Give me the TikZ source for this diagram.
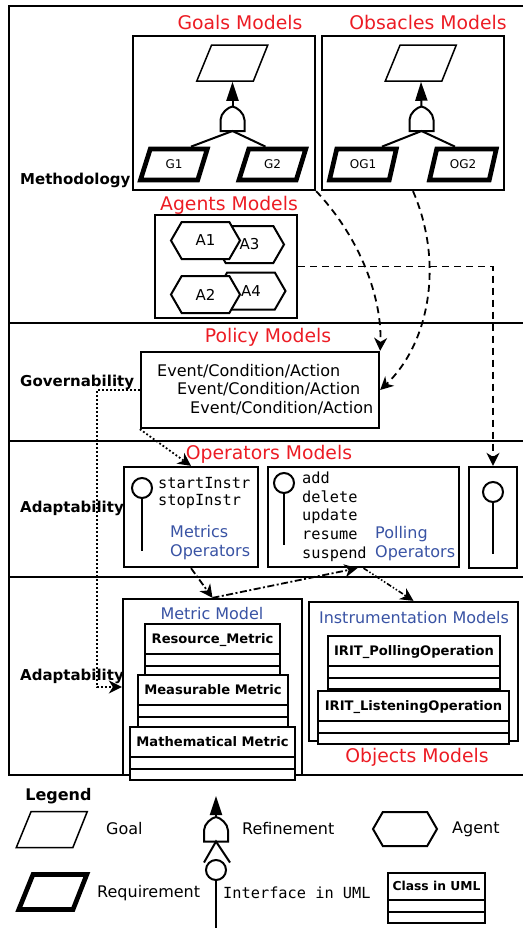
\documentclass[tikz,border=0pt]{standalone}
\usepackage{fontspec}
\setmainfont{DejaVu Sans}
\setmonofont{DejaVu Sans Mono}
\usetikzlibrary{arrows.meta,shapes.geometric,shapes.symbols,shapes.multipart,positioning}
\definecolor{modelred}{RGB}{236,28,36}
\definecolor{opblue}{RGB}{57,83,164}
\newcommand{\umlstrut}{\rule[-7.25pt]{0pt}{24pt}}

\tikzset{
  frame/.style={line width=2.3pt},
  box/.style={draw,line width=2.3pt,inner sep=0pt},
  title/.style={text=modelred,font=\fontsize{18.8}{22}\selectfont,inner sep=0pt},
  seclabel/.style={font=\bfseries\fontsize{15}{18}\selectfont,inner sep=0pt,anchor=west},
  goal/.style={draw,line width=1.5pt,trapezium,trapezium left angle=70.5,trapezium right angle=109,
    trapezium stretches=true,minimum width=71pt,minimum height=36pt,inner sep=1pt,
    font=\fontsize{12}{14}\selectfont},
  req/.style={goal,line width=4.7pt,minimum width=67pt,minimum height=31pt},
  agent/.style={draw,line width=2pt,fill=white,signal,signal to=east and west,signal pointer angle=120,
    minimum width=69pt,minimum height=37pt,inner sep=1pt,font=\fontsize{15}{18}\selectfont},
  lolli/.style={draw,line width=2pt,circle,minimum size=20pt,inner sep=0pt},
  stem/.style={line width=2pt},
  mono/.style={font=\ttfamily\fontsize{15.3}{18}\selectfont,inner sep=0pt,anchor=west},
  optext/.style={text=opblue,font=\fontsize{16}{19}\selectfont,inner sep=0pt,anchor=west},
  evtext/.style={font=\fontsize{16}{19}\selectfont,inner sep=0pt,anchor=west},
  uml/.style={draw,line width=2pt,fill=white,rectangle split,rectangle split parts=3,
    rectangle split empty part height=5.5pt,rectangle split empty part depth=0pt,
    inner xsep=6.5pt,inner ysep=2pt,anchor=north,font=\bfseries\fontsize{13.1}{15}\selectfont},
  refine/.style={line width=2pt,-{Triangle[length=19pt,width=12pt]}},
  dasharrow/.style={line width=1.8pt,dash pattern=on 7pt off 5pt,->},
  dotline/.style={line width=1.8pt,dash pattern=on 1.8pt off 2.2pt,->},
  dashdot/.style={line width=1.8pt,dash pattern=on 7pt off 2.5pt on 2pt off 2.5pt,->},
  dashdotdot/.style={line width=1.6pt,dash pattern=on 5pt off 2pt on 1.5pt off 2pt on 1.5pt off 2pt,->},
  refgate/.pic={
    \draw[line width=2pt,fill=white] (-12,12) -- (-12,1) .. controls (-12,-6) and (-4,-12) .. (0,-12.5)
      .. controls (4,-12) and (12,-6) .. (12,1) -- (12,12) -- cycle;
    \coordinate (-top) at (0,-12.5);
    \coordinate (-bot) at (0,12);
  }
}

\begin{document}
\begin{tikzpicture}[x=1pt,y=-1pt,>={Stealth[length=13pt,width=13pt,inset=4pt]}]
\useasboundingbox (0,0) rectangle (523,929);

% layers of the frame
\draw[frame] (523,6) -- (9,6) -- (9,775) -- (523,775);
\draw[frame] (9,323) -- (523,323) (9,441) -- (523,441) (9,577) -- (523,577);
\node[seclabel] (meth) at (20,180) {Methodology};
\node[seclabel] (gov) at (20,382) {Governability};
\node[seclabel] (adapt1) at (20,508) {Adaptability};
\node[seclabel] (adapt2) at (20,676) {Adaptability};

% goals and obstacles
\node[box,minimum width=182pt,minimum height=154pt] (goalsbox) at (224,113) {};
\node[title] (goalstitle) at (240,22) {Goals Models};
\node[goal] (goal0) at (232.5,63) {};
\node[req] (g1) at (174,164.5) {G1};
\node[req] (g2) at (272.5,164.5) {G2};
\pic (ref1) at (232.5,119) {refgate};
\draw[refine] (ref1-top) -- (goal0.south);
\draw[stem] ([xshift=17pt]g1.north) -- (ref1-bot) -- ([xshift=-7pt]g2.north);

\node[box,minimum width=182pt,minimum height=154pt] (obsbox) at (413,113) {};
\node[title] (obstitle) at (428,22) {Obsacles Models};
\node[goal] (obs0) at (421,63) {};
\node[req] (og1) at (363,164.5) {OG1};
\node[req] (og2) at (463,164.5) {OG2};
\pic (ref2) at (421.5,119) {refgate};
\draw[refine] (ref2-top) -- (obs0.south);
\draw[stem] ([xshift=19pt]og1.north) -- (ref2-bot) -- ([xshift=-8pt]og2.north);

% agents
\node[box,minimum width=142pt,minimum height=103pt] (agentsbox) at (226,266.5) {};
\node[title] (agentstitle) at (229,205) {Agents Models};
\node[agent] (a3) at (249.5,244.5) {A3};
\node[agent] (a1) at (205.5,240.5) {A1};
\node[agent] (a4) at (251,291) {A4};
\node[agent] (a2) at (205.5,294.5) {A2};

% policy
\node[box,minimum width=238pt,minimum height=76pt] (policybox) at (260,390) {};
\node[title] (policytitle) at (268,337) {Policy Models};
\node[evtext] (eca1) at (157,371) {Event/Condition/Action};
\node[evtext] (eca2) at (177,389) {Event/Condition/Action};
\node[evtext] (eca3) at (190,408) {Event/Condition/Action};
\draw[dasharrow] (goalsbox.south east) .. controls (362,240) and (382,300) .. (policybox.north east);
\draw[dasharrow] (obsbox.south) .. controls (445,265) and (428,345) .. (policybox.east);

% operators
\node[title] (optitle) at (269,454) {Operators Models};
\node[box,minimum width=134pt,minimum height=100pt] (metricops) at (191,517) {};
\node[lolli] (lol1) at (142,488) {};
\draw[stem] (lol1.south) -- ++(0,52);
\node[mono] (start) at (158,483) {startInstr};
\node[mono] (stop) at (158,502) {stopInstr};
\node[optext] (metricslbl) at (170,532) {Metrics};
\node[optext] (metricslbl2) at (170,552) {Operators};

\node[box,minimum width=191pt,minimum height=100pt] (pollbox) at (363.5,517) {};
\node[lolli] (lol2) at (284,483) {};
\draw[stem] (lol2.south) -- ++(0,51);
\foreach \op [count=\i] in {add,delete,update,resume,suspend}
  \node[mono] (op\i) at (302,459+19*\i) {\op};
\node[optext] (polllbl) at (375,534) {Polling};
\node[optext] (polllbl2) at (375,553) {Operators};

\node[box,minimum width=48pt,minimum height=101pt] (rightbox) at (493,517.5) {};
\node[lolli] (lol3) at (493,492) {};
\draw[stem] (lol3.south) -- ++(0,51);
\draw[dasharrow] (agentsbox.east) -| (rightbox.north);

% objects
\node[box,minimum width=179pt,minimum height=176pt] (metricbox) at (212.5,687) {};
\node[optext,anchor=center] (metrictitle) at (212,614) {Metric Model};
\node[uml] (resm) at (212.5,623) {\umlstrut Resource\_Metric};
\node[uml] (measm) at (213,674) {\umlstrut Measurable Metric};
\node[uml] (mathm) at (212.5,726) {\umlstrut Mathematical Metric};

\node[box,minimum width=209pt,minimum height=139pt] (instbox) at (413.5,671.5) {};
\node[optext,anchor=center] (insttitle) at (414,618) {Instrumentation Models};
\node[uml] (pollop) at (414,635) {\umlstrut IRIT\_PollingOperation};
\node[uml] (listop) at (413.5,690) {\umlstrut IRIT\_ListeningOperation};
\node[title] (objtitle) at (417,757) {Objects Models};

\draw[dotline] (policybox.west) -- ++(-43,0) |- (metricbox.west);
\draw[dotline] (policybox.south west) -- (metricops.north);
\draw[dashdot] (metricops.south) -- (metricbox.north);
\draw[dashdot] (metricbox.north) -- ([xshift=-6pt]pollbox.south);
\draw[dashdotdot] (pollbox.south) -- (instbox.north);

% legend
\node[seclabel,anchor=center,font=\bfseries\fontsize{16}{19}\selectfont] (legend) at (58.5,796) {Legend};
\node[goal] (lgoal) at (52,829.5) {};
\node[evtext] (lgoaltxt) at (106,829) {Goal};
\pic (lref) at (216,829.5) {refgate};
\draw[refine] (lref-top) -- ++(0,-21);
\draw[stem] ([shift={(-12,21)}]lref-bot) -- (lref-bot) -- ([shift={(14,21)}]lref-bot);
\node[lolli] (llol) at (216,870) {};
\draw[stem] (llol.south) -- ++(0,47);
\node[evtext] (lreftxt) at (242,829) {Refinement};
\node[mono] (lifc) at (223,893) {Interface in UML};
\node[agent,minimum width=64pt,minimum height=34pt] (lagent) at (405,829) {};
\node[evtext] (lagtxt) at (452,829) {Agent};
\node[req,minimum width=68pt,minimum height=35pt] (lreq) at (53,892) {};
\node[evtext] (lreqtxt) at (97,893) {Requirement};
\node[uml,inner xsep=4.5pt,font=\bfseries\fontsize{12.3}{14}\selectfont] (lclass) at (436.5,872)
  {\rule[-7pt]{0pt}{21pt}Class in UML};
\end{tikzpicture}
\end{document}
